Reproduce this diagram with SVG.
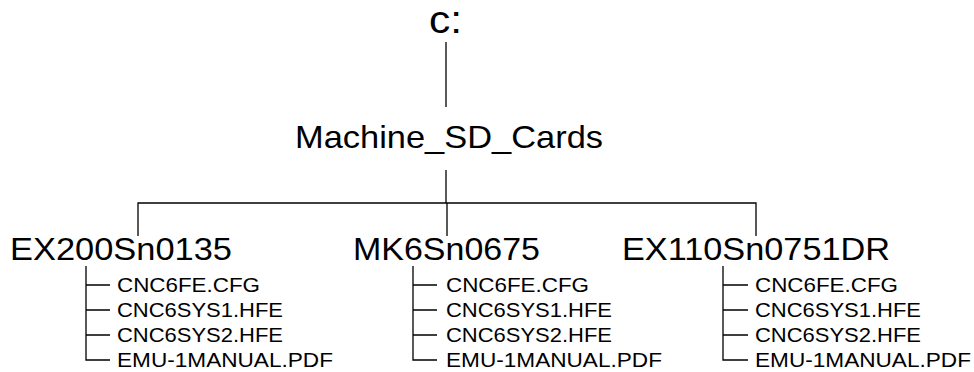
<svg xmlns="http://www.w3.org/2000/svg" width="974" height="372" viewBox="0 0 974 372">
<style>
text{font-family:"Liberation Sans",Arial,sans-serif;fill:#000}
.big{font-size:32px}
.file{font-size:20.5px}
.ln{stroke:#000;stroke-width:1.3;fill:none}
</style>
<rect width="974" height="372" fill="#fff"/>
<g id="connectors">
<line class="ln" x1="446" y1="42" x2="446" y2="107"/>
<line class="ln" x1="446" y1="170" x2="446" y2="203"/>
<path class="ln" d="M138 236V203H756V236M447 203V236"/>
<path class="ln" d="M86 266V360H110M86 285H110M86 310H110M86 335H110"/>
<path class="ln" d="M413 266V360H437M413 285H437M413 310H437M413 335H437"/>
<path class="ln" d="M723 266V360H748M723 285H748M723 310H748M723 335H748"/>
</g>
<g id="root"><text x="429" y="33" font-size="38" textLength="33" lengthAdjust="spacingAndGlyphs">c:</text></g>
<g id="machine"><text class="big" x="295" y="148" textLength="308" lengthAdjust="spacingAndGlyphs">Machine_SD_Cards</text></g>
<g id="ex200"><text class="big" x="10" y="260" textLength="222" lengthAdjust="spacingAndGlyphs">EX200Sn0135</text>
<text class="file" x="117" y="292" textLength="143" lengthAdjust="spacingAndGlyphs">CNC6FE.CFG</text>
<text class="file" x="117" y="317" textLength="166" lengthAdjust="spacingAndGlyphs">CNC6SYS1.HFE</text>
<text class="file" x="117" y="342" textLength="166" lengthAdjust="spacingAndGlyphs">CNC6SYS2.HFE</text>
<text class="file" x="117" y="367" textLength="216" lengthAdjust="spacingAndGlyphs">EMU-1MANUAL.PDF</text></g>
<g id="mk6"><text class="big" x="353" y="260" textLength="187" lengthAdjust="spacingAndGlyphs">MK6Sn0675</text>
<text class="file" x="446" y="292" textLength="143" lengthAdjust="spacingAndGlyphs">CNC6FE.CFG</text>
<text class="file" x="446" y="317" textLength="166" lengthAdjust="spacingAndGlyphs">CNC6SYS1.HFE</text>
<text class="file" x="446" y="342" textLength="166" lengthAdjust="spacingAndGlyphs">CNC6SYS2.HFE</text>
<text class="file" x="446" y="367" textLength="216" lengthAdjust="spacingAndGlyphs">EMU-1MANUAL.PDF</text></g>
<g id="ex110"><text class="big" x="622" y="260" textLength="268" lengthAdjust="spacingAndGlyphs">EX110Sn0751DR</text>
<text class="file" x="755" y="292" textLength="143" lengthAdjust="spacingAndGlyphs">CNC6FE.CFG</text>
<text class="file" x="755" y="317" textLength="166" lengthAdjust="spacingAndGlyphs">CNC6SYS1.HFE</text>
<text class="file" x="755" y="342" textLength="166" lengthAdjust="spacingAndGlyphs">CNC6SYS2.HFE</text>
<text class="file" x="755" y="367" textLength="216" lengthAdjust="spacingAndGlyphs">EMU-1MANUAL.PDF</text></g>
</svg>
